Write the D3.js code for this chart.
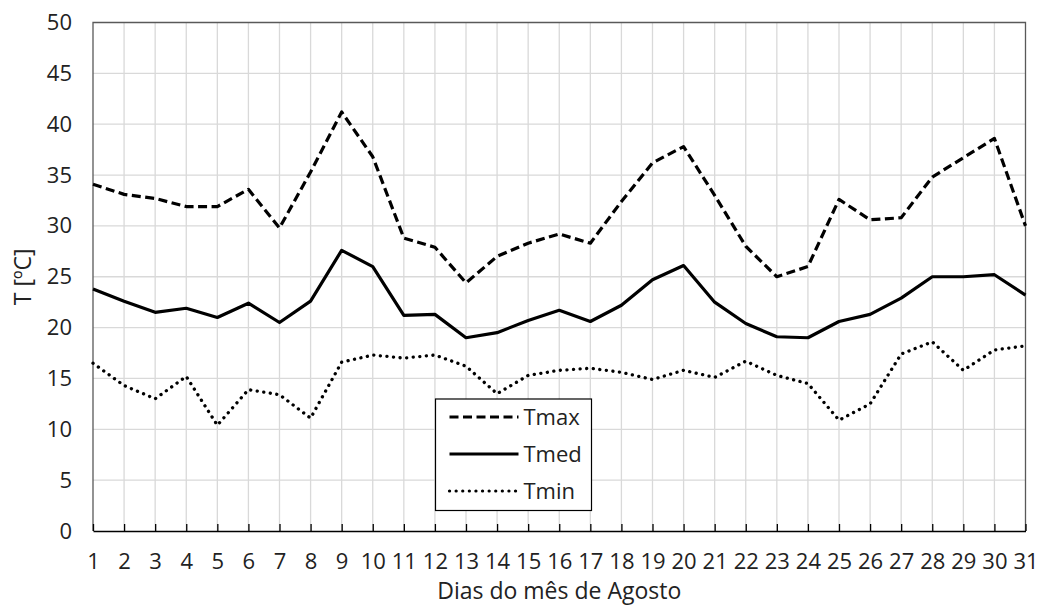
<!DOCTYPE html>
<html>
<head>
<script src="https://d3js.org/d3.v7.min.js"></script>
<style>
  body { margin: 0; background: #fff; }
  text { font-family: "Open Sans", sans-serif; fill: #222; }
</style>
</head>
<body>
<div id="chart"></div>
<script>
// days of August
const days = d3.range(1, 32);
const tmax = [34.1, 33.1, 32.7, 31.9, 31.9, 33.6, 29.8, 35.3, 41.2, 36.8,
  28.8, 27.9, 24.4, 27.0, 28.3, 29.2, 28.3, 32.4, 36.2, 37.8,
  33.0, 28.0, 25.0, 26.0, 32.6, 30.6, 30.8, 34.8, 36.7, 38.6, 30.0];
const tmed = [23.8, 22.6, 21.5, 21.9, 21.0, 22.4, 20.5, 22.6, 27.6, 26.0,
  21.2, 21.3, 19.0, 19.5, 20.7, 21.7, 20.6, 22.2, 24.7, 26.1,
  22.5, 20.4, 19.1, 19.0, 20.6, 21.3, 22.9, 25.0, 25.0, 25.2, 23.2];
const tmin = [16.5, 14.3, 13.0, 15.2, 10.4, 13.9, 13.4, 11.1, 16.6, 17.3,
  17.0, 17.3, 16.2, 13.5, 15.3, 15.8, 16.0, 15.6, 14.9, 15.8,
  15.1, 16.7, 15.3, 14.5, 10.9, 12.5, 17.4, 18.6, 15.8, 17.8, 18.2];
const yTicks = d3.range(0, 51, 5);
const seriesNames = ["Tmax", "Tmed", "Tmin"];

const W = 1040, H = 606;
const margin = { top: 22.5, right: 14.5, bottom: 75, left: 93 };
const width = W - margin.left - margin.right;
const height = H - margin.top - margin.bottom;

const svg = d3.select("#chart").append("svg")
  .attr("width", W).attr("height", H);
const g = svg.append("g").attr("transform", `translate(${margin.left},${margin.top})`);

const x = d3.scaleLinear().domain([1, 31]).range([0, width]);
const y = d3.scaleLinear().domain([0, 50]).range([height, 0]);

// grid
g.append("g").selectAll("line").data(days.slice(1, -1)).join("line")
  .attr("x1", d => x(d)).attr("x2", d => x(d))
  .attr("y1", 0).attr("y2", height)
  .attr("stroke", "#d9d9d9").attr("stroke-width", 1.3);
g.append("g").selectAll("line").data(yTicks.slice(1, -1)).join("line")
  .attr("x1", 0).attr("x2", width)
  .attr("y1", d => y(d)).attr("y2", d => y(d))
  .attr("stroke", "#d9d9d9").attr("stroke-width", 1.3);

// frame
g.append("path")
  .attr("d", `M0,${height}V0H${width}V${height}`)
  .attr("fill", "none").attr("stroke", "#595959").attr("stroke-width", 1.3);

// x axis with inward ticks
const xAxis = g.append("g").attr("transform", `translate(0,${height})`)
  .call(d3.axisBottom(x).tickValues(days).tickFormat(d3.format("d"))
    .tickSizeInner(-7).tickSizeOuter(0).tickPadding(22));
xAxis.select(".domain").attr("stroke", "#000").attr("stroke-width", 1.6);
xAxis.selectAll(".tick line").attr("stroke", "#000").attr("stroke-width", 1.3);
xAxis.selectAll("text").style("font-size", "22px").attr("fill", "#222");

// y axis labels
const yAxis = g.append("g")
  .call(d3.axisLeft(y).tickValues(yTicks).tickSize(0).tickPadding(21));
yAxis.select(".domain").remove();
yAxis.selectAll("text").style("font-size", "22px").attr("fill", "#222");

// axis titles
svg.append("text")
  .attr("x", margin.left + width / 2).attr("y", 599)
  .attr("text-anchor", "middle").style("font-size", "23px")
  .text("Dias do mês de Agosto");
svg.append("text")
  .attr("transform", `translate(31,${margin.top + height / 2}) rotate(-90)`)
  .attr("text-anchor", "middle").style("font-size", "23px")
  .text("T [ºC]");

// lines
const styles = {
  Tmax: { dash: "9,4.5", cap: "butt" },
  Tmed: { dash: null, cap: "butt" },
  Tmin: { dash: "0.1,6.5", cap: "round" }
};
const seriesData = { Tmax: tmax, Tmed: tmed, Tmin: tmin };
const line = d3.line().x((d, i) => x(days[i])).y(d => y(d));

seriesNames.forEach(name => {
  g.append("path")
    .datum(seriesData[name])
    .attr("d", line)
    .attr("fill", "none")
    .attr("stroke", "#000")
    .attr("stroke-width", name === "Tmin" ? 3.3 : 3.2)
    .attr("stroke-linejoin", "round")
    .attr("stroke-linecap", styles[name].cap)
    .attr("stroke-dasharray", styles[name].dash);
});

// legend
const lg = svg.append("g").attr("transform", "translate(435.5,399)");
lg.append("rect").attr("width", 156).attr("height", 111.5)
  .attr("fill", "#fff").attr("stroke", "#000").attr("stroke-width", 1.2);
seriesNames.forEach((name, i) => {
  const cy = 18 + i * 37;
  lg.append("line")
    .attr("x1", 14).attr("x2", 83).attr("y1", cy).attr("y2", cy)
    .attr("stroke", "#000").attr("stroke-width", 3.2)
    .attr("stroke-linecap", styles[name].cap)
    .attr("stroke-dasharray", styles[name].dash);
  lg.append("text").attr("x", 88).attr("y", cy).attr("dy", "0.35em")
    .style("font-size", "22px").attr("fill", "#111").text(name);
});
</script>
</body>
</html>
